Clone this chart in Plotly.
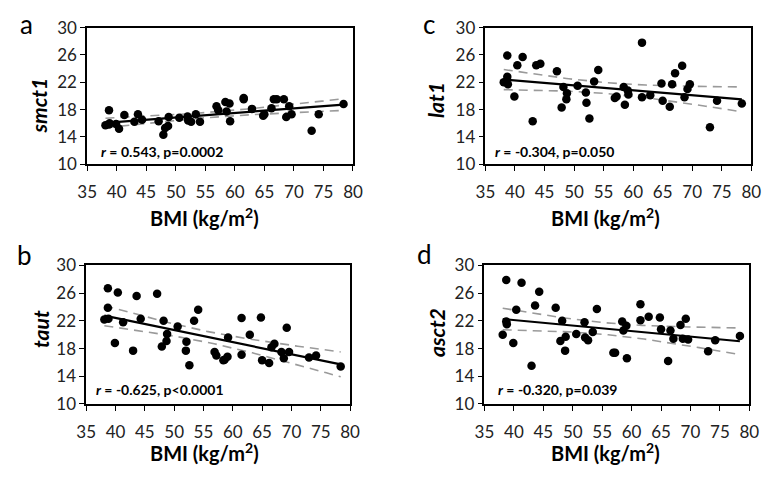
import numpy as np
import plotly.graph_objects as go

# ---------------- data ----------------
bmi = [38.1, 38.7, 38.7, 38.8, 39.9, 40.4, 41.3, 43.0, 43.6, 44.3,
       47.1, 47.9, 48.2, 48.7, 48.8, 50.6, 52.0, 52.1, 52.6, 53.4,
       54.1, 56.9, 57.2, 58.4, 58.6, 59.1, 59.2, 61.5, 61.5, 62.9,
       64.8, 65.0, 66.2, 66.6, 67.1, 68.3, 68.7, 69.2, 69.6, 73.0,
       74.2, 78.4]

smct1 = [15.7, 17.9, 15.8, 16.0, 15.9, 15.2, 17.2, 16.2, 17.3, 16.5,
         16.3, 14.3, 15.3, 15.6, 16.9, 16.8, 17.0, 16.4, 16.2, 17.3,
         16.2, 18.5, 17.9, 19.1, 17.7, 18.9, 16.3, 19.7, 19.5, 18.1,
         17.1, 17.3, 18.2, 19.5, 19.5, 19.5, 16.9, 18.5, 17.3, 14.9,
         17.3, 18.8]

lat1 = [22.0, 25.9, 22.8, 21.7, 19.9, 24.5, 25.7, 16.3, 24.5, 24.7,
        23.6, 18.3, 21.3, 19.5, 20.4, 21.5, 20.5, 19.0, 16.7, 22.1,
        23.8, 19.7, 19.9, 21.3, 18.7, 20.8, 20.2, 27.8, 19.8, 20.1,
        21.8, 19.3, 18.4, 21.7, 23.3, 24.4, 19.8, 21.0, 21.7, 15.4,
        19.3, 18.9]

taut = [22.2, 26.7, 23.9, 22.3, 18.8, 26.1, 21.8, 17.7, 25.6, 22.3,
        25.9, 18.3, 22.0, 19.1, 20.1, 21.2, 17.7, 19.0, 15.6, 22.0,
        23.6, 17.5, 17.0, 16.3, 16.4, 16.8, 19.6, 22.4, 17.1, 20.0,
        22.5, 16.3, 15.9, 18.2, 18.7, 17.5, 16.6, 21.0, 17.5, 16.7,
        17.0, 15.4]

asct2 = [20.0, 27.9, 21.9, 21.5, 18.8, 23.6, 27.5, 15.5, 24.2, 26.2,
         23.9, 19.1, 22.0, 17.7, 19.7, 20.1, 21.8, 19.6, 19.2, 20.4,
         23.7, 17.4, 17.4, 21.9, 20.6, 21.3, 16.6, 24.4, 22.1, 22.6,
         22.5, 20.8, 16.2, 20.6, 19.4, 21.4, 19.4, 22.3, 19.3, 17.6,
         19.2, 19.8]

panel_letters = ["a", "c", "b", "d"]
gene_names = ["smct1", "lat1", "taut", "asct2"]
stats_text = ["r = 0.543, p=0.0002", "r = -0.304, p=0.050",
              "r = -0.625, p<0.0001", "r = -0.320, p=0.039"]
x_ticks = [35, 40, 45, 50, 55, 60, 65, 70, 75, 80]
y_ticks = [10, 14, 18, 22, 26, 30]
x_title = "BMI (kg/m<sup>2</sup>)"

series = [smct1, lat1, taut, asct2]

# ---------------- layout geometry (page pixels) ----------------
# the page body has an 8px margin, so the figure is drawn offset by it
OFF = 8
W, H = 772 - OFF, 477 - OFF
FONT = "Lato"
# plot-area boxes: (left, right, top, bottom) in page pixels
boxes = [(79, 352, 17, 160), (488, 761, 17, 160),
         (78, 349, 266, 411), (487, 759, 266, 411)]
letter_pos = [(17, 13), (430, 13), (15, 255), (425, 254)]
ytitle_pos = [(30, 98), (436, 93), (31, 332), (438, 336)]
xtitle_pos = [(200, 215), (611, 215), (200, 461), (611, 461)]
stat_pos = [(91, 147), (496, 147), (86, 396), (499, 396)]


def px(x):
    return (x - OFF) / W


def py(y):
    return 1 - (y - OFF) / H


fig = go.Figure()
t_crit = 2.021  # t(0.975, df=40)

for i, (yv, box) in enumerate(zip(series, boxes)):
    ax = "" if i == 0 else str(i + 1)
    xa, ya = "x" + ax, "y" + ax
    x = np.array(bmi)
    y = np.array(yv)
    n = len(x)
    b1, b0 = np.polyfit(x, y, 1)
    resid = y - (b0 + b1 * x)
    s = np.sqrt(np.sum(resid ** 2) / (n - 2))
    sxx = np.sum((x - x.mean()) ** 2)
    grid = np.linspace(x.min(), x.max(), 100)
    fit = b0 + b1 * grid
    half = t_crit * s * np.sqrt(1 / n + (grid - x.mean()) ** 2 / sxx)

    for band in (fit + half, fit - half):
        fig.add_trace(go.Scatter(x=grid, y=band, mode="lines", xaxis=xa, yaxis=ya,
                                 line=dict(color="#9a9a9a", width=1.6, dash="9px,6px"),
                                 hoverinfo="skip", showlegend=False))
    fig.add_trace(go.Scatter(x=x, y=y, mode="markers", xaxis=xa, yaxis=ya,
                             marker=dict(color="black", size=8.5, line=dict(width=0)),
                             showlegend=False))
    fig.add_trace(go.Scatter(x=grid, y=fit, mode="lines", xaxis=xa, yaxis=ya,
                             line=dict(color="black", width=2.2),
                             hoverinfo="skip", showlegend=False))

    l, r, t, b = box
    axis_common = dict(showgrid=False, zeroline=False, showline=True,
                       linecolor="black", linewidth=1.5, mirror=True,
                       ticks="outside", ticklen=5, tickwidth=1.2, tickcolor="black",
                       ticklabeloverflow="allow",
                       tickfont=dict(family=FONT, size=17, color="#222"))
    fig.update_layout(**{
        ("xaxis" + ax): dict(domain=[px(l), px(r)], range=[35, 80], tickvals=x_ticks,
                             anchor=ya, ticklabelstandoff=7, **axis_common),
        ("yaxis" + ax): dict(domain=[py(b), py(t)], range=[10, 30], tickvals=y_ticks,
                             anchor=xa, **axis_common),
    })

annotations = []
for i in range(4):
    lx, ly = letter_pos[i]
    annotations.append(dict(x=px(lx), y=py(ly), xref="paper", yref="paper",
                            text=panel_letters[i], showarrow=False,
                            font=dict(family=FONT, size=26, color="black"),
                            xanchor="center", yanchor="middle"))
    tx, ty = ytitle_pos[i]
    annotations.append(dict(x=px(tx), y=py(ty), xref="paper", yref="paper",
                            text="<b><i>" + gene_names[i] + "</i></b>", showarrow=False,
                            textangle=-90,
                            font=dict(family=FONT, size=21, color="black"),
                            xanchor="center", yanchor="middle"))
    bx, by = xtitle_pos[i]
    annotations.append(dict(x=px(bx), y=py(by), xref="paper", yref="paper",
                            text="<b>" + x_title + "</b>", showarrow=False,
                            font=dict(family=FONT, size=20, color="black"),
                            xanchor="center", yanchor="middle"))
    sx, sy = stat_pos[i]
    st = stats_text[i]
    annotations.append(dict(x=px(sx), y=py(sy), xref="paper", yref="paper",
                            text="<b><i>r</i>" + st[1:] + "</b>", showarrow=False,
                            font=dict(family=FONT, size=14, color="black"),
                            xanchor="left", yanchor="middle"))

fig.update_layout(width=W, height=H, margin=dict(l=0, r=0, t=0, b=0),
                  paper_bgcolor="white", plot_bgcolor="white",
                  annotations=annotations, showlegend=False)

fig.write_html("out.html")
